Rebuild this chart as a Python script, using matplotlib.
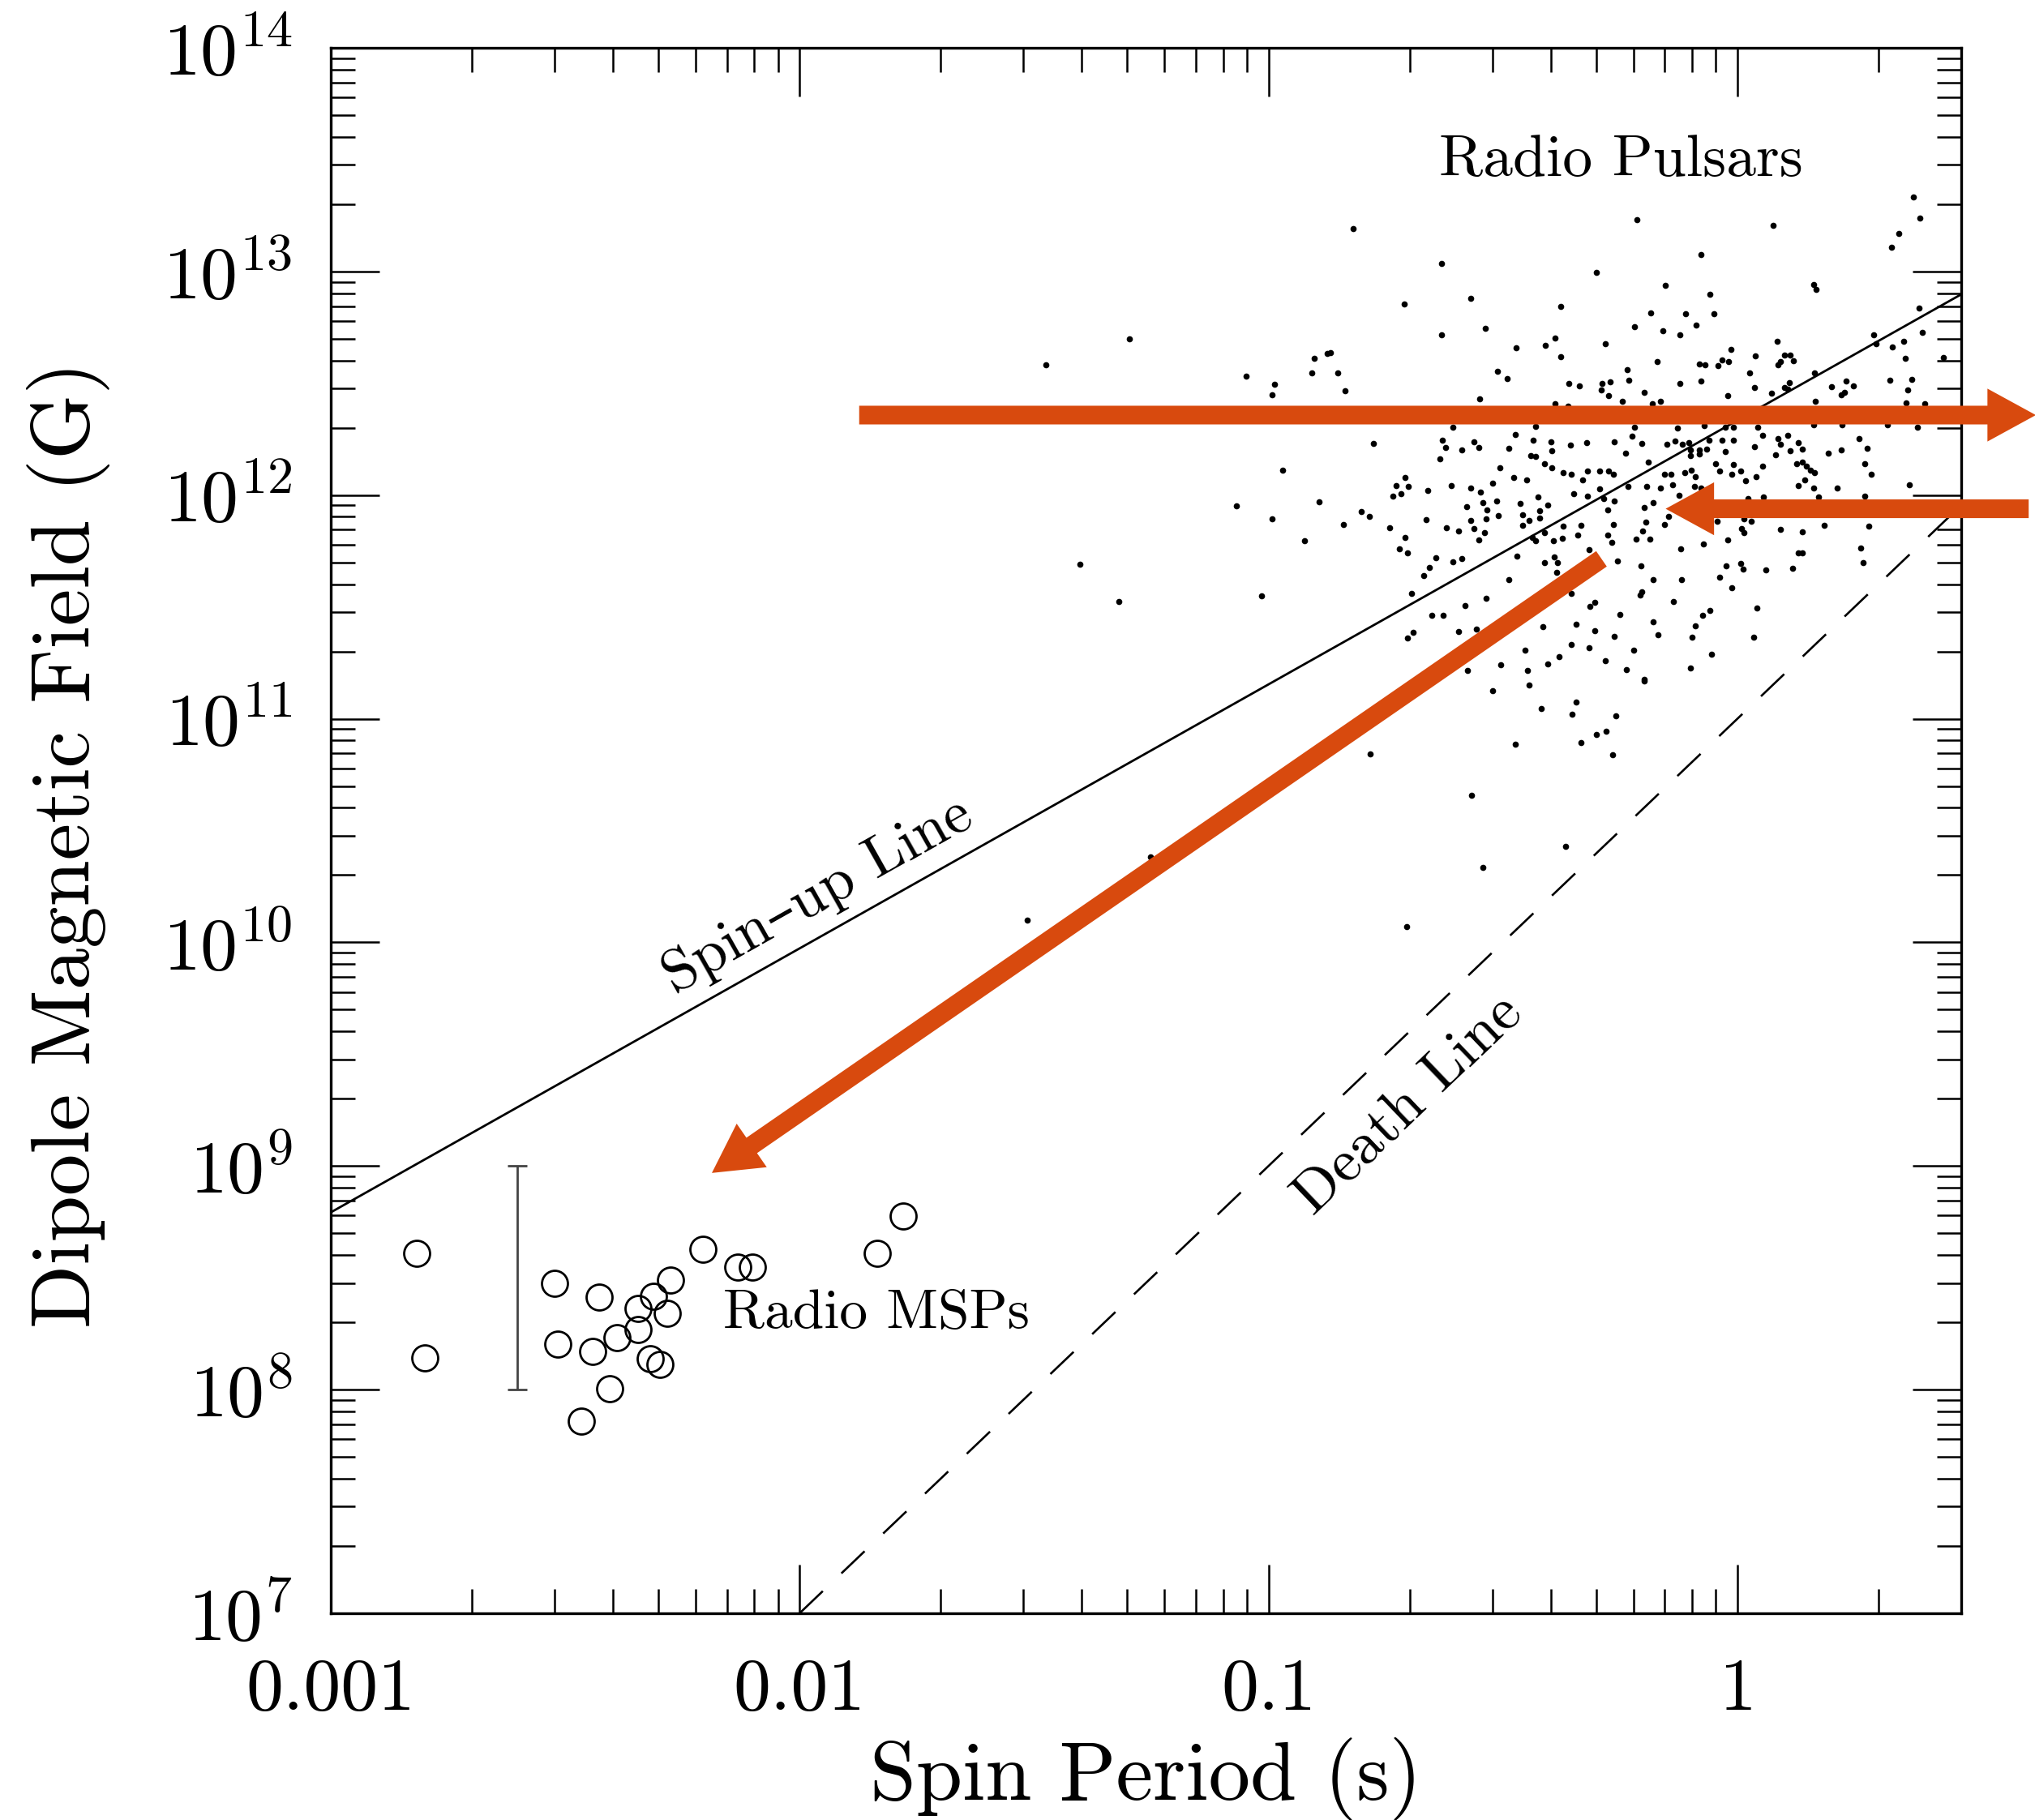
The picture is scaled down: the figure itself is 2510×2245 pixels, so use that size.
import numpy as np
import matplotlib
matplotlib.use('Agg')
import matplotlib.pyplot as plt
from matplotlib.ticker import LogLocator, NullFormatter

plt.rcParams['font.family'] = ['cmr10', 'DejaVu Serif']
plt.rcParams['mathtext.fontset'] = 'cm'
plt.rcParams['axes.unicode_minus'] = False

# radio pulsars as log10(P [s]) and log10(B [G])
psr_logp = [
    -1.474, -1.297, -1.048, -0.988, -0.992, -0.902, -0.907, -0.875,
    -0.819, -0.631, -0.711, -0.569, -0.631, -0.538, -0.472, -0.410, -0.389, -0.377,
    -0.377, -0.300, -0.214, -0.185, -0.219, -0.282, -0.235, -0.232, -0.272, -0.289,
    -0.291, -0.274, -0.246, -0.198, -0.182, -0.359, -0.337, -0.512, -0.491, -0.549,
    -0.852, -0.836, -0.868, -0.389, -0.362, -0.606, -0.431, -0.219,
    0.376, 0.389, 0.344, 0.329, 0.076, -0.077, -0.153, -0.059, 0.163, 0.167,
    -0.110, -0.050, -0.088, -0.159, -0.122, 0.388, 0.395, 0.085, -0.014, -0.171,
    -0.081, -0.069, -0.042, -0.033, -0.019, 0.039, 0.087, 0.091, 0.101, 0.112,
    0.119, 0.026, 0.037, -0.078, -0.122, -0.021, 0.073, 0.100, 0.111, 0.107,
    0.164, 0.200, 0.222, 0.228, 0.231, 0.248, 0.291, 0.296, 0.330, 0.354,
    0.358, 0.326, 0.372, 0.363, 0.439, -0.164, 0.166, 0.360, 0.399, -0.127,
    -0.070, -0.026, -0.009, 0.043, 0.163, 0.224, 0.320, 0.384,
    -0.970, -1.068, -0.992, -0.892, -0.924, -1.402, -1.320, -1.015,
    -0.776, -0.629, -0.622, -0.588, -0.562, -0.551, -0.634, -0.474, -0.488, -0.435,
    -0.398, -0.396, -0.356, -0.321, -0.262, -0.225, -0.204, -0.239, -0.441, -0.430,
    -0.412, -0.395, -0.507, -0.477, -0.449, -0.522, -0.372, -0.355, -0.331, -0.320,
    -0.294, -0.274, -0.265, -0.190, -0.233, -0.193, -0.293, -0.349, -0.320, -0.285,
    -0.262, -0.277, -0.199, -0.179, -0.709, -0.727, -0.702, -0.735, -0.717, -0.660,
    -0.610, -0.568, -0.548, -0.513, -0.542, -0.577, -0.535, -0.536, -0.568, -0.510,
    -0.464, -0.425, -0.404, -0.421, -0.458, -0.444, -0.421, -0.458, -0.803, -0.785,
    -0.841, -0.742, -0.663, -0.621, -0.594, -0.562, -0.539, -0.551, -0.708, -0.721,
    -0.704, -0.643, -0.606, -0.587, -0.657, -0.669, -0.695, -0.471, -0.438, -0.412,
    -0.430, -0.392, -0.373, -0.340, -0.334, -0.372, -0.265, -0.196, -0.202, -0.216,
    -0.187, -0.277, -0.268, -0.317, -0.390, -0.383, -0.412, -0.386, -0.487, -0.256,
    -0.206, -0.179, -0.204, -0.207, -0.305, -0.314, -0.354, -0.251, -0.179, -0.536,
    -0.580, -0.652, -0.627, -0.692, -0.704, -0.594, -0.556, -0.344, -0.415, -0.305,
    -0.262, -0.354, -0.453, -0.317, -0.222, -0.380, -0.505, -0.404, -0.281, -0.447,
    -0.575, -0.236, -0.199,
    -0.150, -0.133, -0.118, -0.104, -0.101, -0.081, -0.066, -0.101, -0.081, -0.061,
    -0.032, -0.009, -0.026, 0.054, 0.037, 0.087, 0.092, 0.107, 0.113, 0.130,
    0.138, 0.081, 0.193, 0.222, 0.260, 0.277, -0.046, -0.038, -0.009, -0.012,
    0.007, 0.040, 0.054, 0.017, 0.127, 0.138, 0.147, 0.156, 0.164, 0.144,
    0.130, 0.162, 0.213, 0.271, 0.286, 0.366, -0.156, -0.141, -0.113, -0.098,
    -0.089, -0.138, -0.164, -0.092, -0.078, -0.124, 0.023, 0.055, 0.173, 0.271,
    -0.147, -0.156, -0.043, 0.014, 0.029, 0.009, 0.014, 0.092, 0.138, 0.185,
    0.280, -0.121, -0.072, -0.021, 0.130, 0.138, 0.263, 0.268, -0.024, 0.007,
    0.013, 0.061, 0.117, -0.119, -0.038, -0.012, -0.136, -0.075, -0.058, 0.042,
    -0.089, -0.170, -0.096, 0.035, -0.056, -0.101,
    -1.515, -1.252,
    -0.522, -0.444, -0.344, -0.418, -0.352, -0.259, -0.300, -0.280, -0.333, -0.267,
    -0.473, -0.783, -0.567, -0.366, -0.542, -0.705, -0.199,
]
psr_logb = [
    12.583, 12.698, 12.531, 12.496, 12.448, 12.611, 12.547, 12.634,
    13.191, 13.037, 12.853, 12.880, 12.716, 12.747, 12.658, 12.669, 12.701, 12.618,
    12.842, 12.996, 13.233, 12.816, 12.752, 12.677, 12.561, 12.515, 12.508, 12.498,
    12.472, 12.446, 12.418, 12.461, 12.408, 12.498, 12.487, 12.555, 12.520, 12.429,
    12.545, 12.467, 12.637, 12.408, 12.398, 12.302, 12.307, 12.302,
    13.334, 13.240, 13.170, 13.108, 13.208, 13.075, 12.937, 12.898, 12.940, 12.921,
    12.810, 12.811, 12.759, 12.734, 12.718, 12.838, 12.726, 12.689, 12.653, 12.599,
    12.585, 12.583, 12.579, 12.603, 12.599, 12.621, 12.583, 12.597, 12.625, 12.625,
    12.601, 12.546, 12.482, 12.510, 12.498, 12.446, 12.456, 12.482, 12.504, 12.474,
    12.546, 12.486, 12.450, 12.460, 12.510, 12.490, 12.716, 12.677, 12.662, 12.688,
    12.611, 12.514, 12.519, 12.471, 12.616, 12.419, 12.421, 12.411, 12.409, 12.299,
    12.311, 12.305, 12.305, 12.303, 12.315, 12.315, 12.315, 12.303,
    12.112, 11.951, 11.894, 11.969, 11.797, 11.691, 11.525, 11.549,
    12.230, 12.247, 12.213, 12.202, 12.239, 12.213, 12.162, 12.271, 12.211, 12.245,
    12.239, 12.199, 12.223, 12.235, 12.239, 12.263, 12.230, 12.187, 12.175, 12.172,
    12.142, 12.124, 12.124, 12.078, 12.069, 12.054, 12.100, 12.094, 12.069, 12.106,
    12.106, 12.109, 12.094, 12.148, 12.039, 12.039, 12.029, 12.005, 11.997, 11.985,
    11.973, 11.933, 11.945, 11.967, 12.078, 12.042, 12.039, 11.997, 12.005, 12.021,
    12.042, 12.033, 12.015, 11.973, 11.967, 11.948, 11.933, 11.894, 11.888, 11.909,
    11.964, 11.991, 11.957, 11.930, 11.912, 11.888, 11.896, 11.864, 11.927, 11.904,
    11.867, 11.855, 11.892, 11.855, 11.840, 11.852, 11.834, 11.800, 11.812, 11.761,
    11.743, 11.719, 11.701, 11.715, 11.676, 11.640, 11.562, 11.727, 11.812, 11.831,
    11.797, 11.797, 11.806, 11.822, 11.864, 11.860, 11.867, 11.880, 11.840, 11.803,
    11.803, 11.821, 11.788, 11.757, 11.725, 11.698, 11.698, 11.655, 11.621, 11.707,
    11.682, 11.622, 11.568, 11.553, 11.519, 11.501, 11.562, 11.465, 11.435, 11.537,
    11.505, 11.461, 11.461, 11.386, 11.360, 11.389, 11.401, 11.423, 11.410, 11.392,
    11.368, 11.332, 11.308, 11.316, 11.308, 11.277, 11.241, 11.244, 11.259, 11.215,
    11.217, 11.219, 11.175,
    12.226, 12.242, 12.226, 12.233, 12.202, 12.202, 12.206, 12.178, 12.184, 12.245,
    12.245, 12.245, 12.196, 12.266, 12.218, 12.251, 12.226, 12.269, 12.199, 12.233,
    12.206, 12.182, 12.187, 12.202, 12.251, 12.211, 12.142, 12.106, 12.136, 12.093,
    12.109, 12.081, 12.130, 12.063, 12.142, 12.148, 12.130, 12.112, 12.100, 12.069,
    12.042, 12.033, 12.033, 12.142, 12.093, 12.045, 12.093, 12.093, 12.100, 12.112,
    12.081, 12.045, 12.033, 12.039, 12.033, 11.999, 11.985, 11.993, 11.993, 11.997,
    11.906, 11.870, 11.882, 11.894, 11.882, 11.852, 11.834, 11.848, 11.836, 11.864,
    11.860, 11.761, 11.782, 11.800, 11.743, 11.743, 11.763, 11.698, 11.682, 11.695,
    11.670, 11.667, 11.674, 11.622, 11.634, 11.586, 11.525, 11.461, 11.485, 11.495,
    11.416, 11.377, 11.364, 11.364, 11.287, 11.227,
    10.099, 10.383,
    11.127, 11.151, 11.075, 11.046, 11.022, 11.012, 10.931, 10.943, 10.895, 10.840,
    10.885, 10.843, 10.658, 10.429, 10.335, 10.071, 11.169,
]

# radio millisecond pulsars (open circles)
msp_logp = [-2.817, -2.799, -2.522, -2.515, -2.427, -2.441, -2.405, -2.466, -2.390, -2.344,
            -2.345, -2.311, -2.275, -2.283, -2.319, -2.297, -2.206, -2.131, -2.101, -1.834, -1.779]
msp_logb = [8.611, 8.142, 8.477, 8.205, 8.414, 8.170, 8.004, 7.860, 8.233, 8.267,
            8.364, 8.419, 8.489, 8.340, 8.140, 8.112, 8.626, 8.547, 8.547, 8.611, 8.777]

# error bar range for the MSP fields
err_p = 0.0025
err_b = [1e8, 1e9]

# spin-up and death lines (power laws, straight on log-log)
spinup_p = [0.001, 3.0]
spinup_b = [6.2e8, 7.9e12]
death_p = [0.01, 3.0]
death_b = [1e7, 9e11]

# red annotation arrows: (tail P, tail B) -> (tip P, tip B)
arrow_tail_p = [0.0134, 4.18, 0.513]
arrow_tail_b = [2.28e12, 8.69e11, 5.19e11]
arrow_tip_p = [4.33, 0.703, 0.0065]
arrow_tip_b = [2.28e12, 8.69e11, 9.31e8]

xtick_vals = [0.001, 0.01, 0.1, 1]
xtick_labels = ['0.001', '0.01', '0.1', '1']
ytick_vals = [1e7, 1e8, 1e9, 1e10, 1e11, 1e12, 1e13, 1e14]
ytick_labels = [r'$10^{%d}$' % e for e in range(7, 15)]

fig = plt.figure(figsize=(25.1, 22.45), dpi=100)
ax = fig.add_axes([0.1625, 0.1136, 0.8012, 0.8601])
ax.set_xscale('log')
ax.set_yscale('log')

ax.plot(spinup_p, spinup_b, color='k', lw=2.0, solid_capstyle='butt')
ax.plot(death_p, death_b, color='k', lw=1.9, dashes=(15, 12))
ax.plot(10**np.array(psr_logp), 10**np.array(psr_logb), ls='none', marker='o',
        ms=5.5, mfc='k', mec='k', mew=0)
ax.plot(10**np.array(msp_logp), 10**np.array(msp_logb), ls='none', marker='o',
        ms=23, mfc='none', mec='k', mew=2.0)
b_mid = np.sqrt(err_b[0] * err_b[1])
ax.errorbar([err_p], [b_mid], yerr=[[b_mid - err_b[0]], [err_b[1] - b_mid]],
            fmt='none', ecolor='#444444', elinewidth=2.0, capsize=8.3, capthick=2.0)

ax.set_xlim(1e-3, 3)
ax.set_ylim(1e7, 1e14)

ax.set_xticks(xtick_vals)
ax.set_xticklabels(xtick_labels)
ax.set_yticks(ytick_vals)
ax.set_yticklabels(ytick_labels)
ax.xaxis.set_minor_locator(LogLocator(base=10, subs=np.arange(2, 10), numticks=20))
ax.yaxis.set_minor_locator(LogLocator(base=10, subs=np.arange(2, 10), numticks=20))
ax.xaxis.set_minor_formatter(NullFormatter())
ax.yaxis.set_minor_formatter(NullFormatter())

ax.tick_params(which='both', direction='in', top=True, right=True, width=1.8)
ax.tick_params(which='major', length=43, labelsize=66)
ax.tick_params(which='minor', length=21.6)
ax.tick_params(axis='x', which='major', pad=40)
ax.tick_params(axis='y', which='major', pad=34)
for s in ax.spines.values():
    s.set_linewidth(2.4)

ax.set_xlabel('Spin Period (s)', fontsize=74, va='center')
ax.xaxis.set_label_coords(0.5, -0.106)
ax.set_ylabel('Dipole Magnetic Field (G)', fontsize=74, va='center')
ax.yaxis.set_label_coords(-0.161, 0.491)

ax.text(0.564, 3.12e13, 'Radio Pulsars', fontsize=53, ha='center', va='center')
ax.text(0.00687, 2.19e8, 'Radio MSPs', fontsize=50, ha='left', va='center')
ax.text(0.01094, 1.62e10, 'Spin\u2013up Line', fontsize=53, ha='center', va='center',
        rotation=29.4, rotation_mode='anchor')
ax.text(0.199, 1.86e9, 'Death Line', fontsize=53, ha='center', va='center',
        rotation=43.7, rotation_mode='anchor')

for i in range(len(arrow_tip_p)):
    ax.annotate('', xy=(arrow_tip_p[i], arrow_tip_b[i]),
                xytext=(arrow_tail_p[i], arrow_tail_b[i]),
                arrowprops=dict(arrowstyle='simple,head_length=43,head_width=47,tail_width=16.6',
                                mutation_scale=1, fc='#D84A0E', ec='none', lw=0,
                                shrinkA=0, shrinkB=0),
                annotation_clip=False, zorder=10)

fig.savefig('out.png', dpi=100)
